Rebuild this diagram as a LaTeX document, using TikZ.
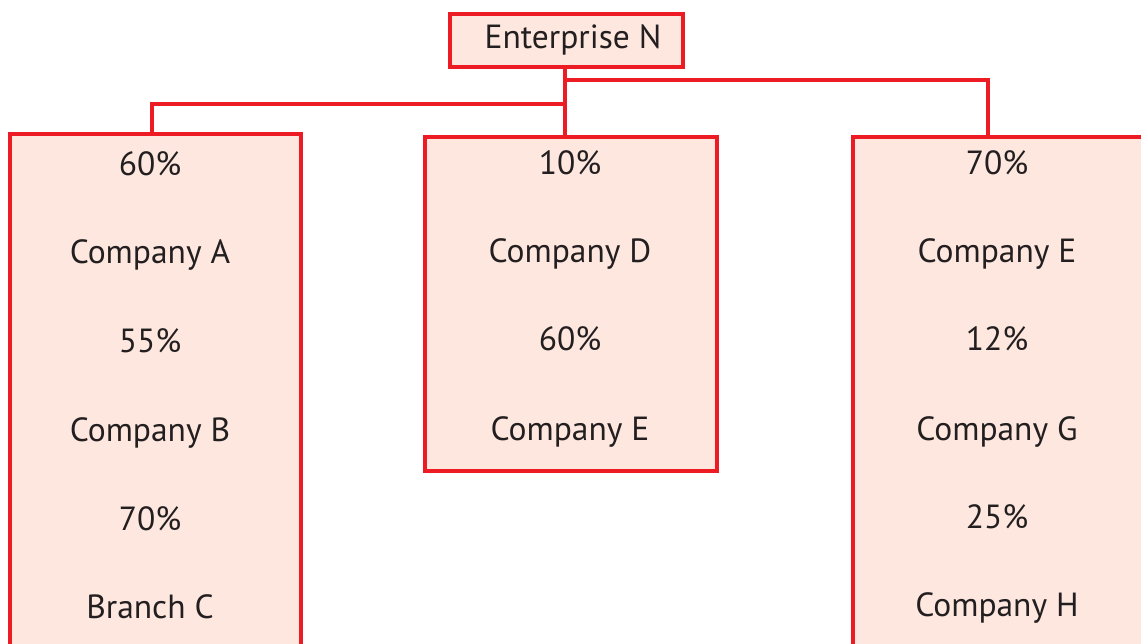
\documentclass[tikz,border=0pt]{standalone}
\usepackage{fontspec}
\setmainfont{PT Sans}
\definecolor{linkred}{RGB}{237, 28, 36}
\definecolor{unitfill}{RGB}{253, 231, 222}
\definecolor{labelgray}{RGB}{35, 31, 32}
\usepackage{tikz}
\usetikzlibrary{positioning}

\begin{document}
\begin{tikzpicture}[x=1pt, y=-1pt,
  unit/.style={rectangle, draw=linkred, fill=unitfill, line width=3.5pt, inner sep=0pt},
  share/.style={anchor=base, text=labelgray, font=\fontsize{33.5}{40}\selectfont},
  link/.style={draw=linkred, line width=3.5pt}]
  % Page
  \clip (0, 0) rectangle (1141, 644);

  % Boxes
  \node[unit, minimum width=233pt, minimum height=53pt] (ent) at (566.5, 40.5) {};
  \node[unit, minimum width=291pt, minimum height=530pt] (chainA) at (155.5, 399) {};
  \node[unit, minimum width=292pt, minimum height=334pt] (chainD) at (571, 304) {};
  \node[unit, minimum width=310pt, minimum height=530pt] (chainE) at (1008, 402) {};

  % Connectors
  \coordinate (jr) at (565, 80);
  \coordinate (jl) at (565, 104);
  \coordinate (dropA) at (152, 134);
  \coordinate (dropE) at (988, 137);
  \draw[link] (ent.south -| jr) -- (jr |- chainD.north);
  \draw[link] (jr) -| (dropE);
  \draw[link] (jl) -| (dropA);

  % Top
  \node[share] (topname) at (573, 49) {Enterprise N};

  % Left chain
  \node[share] (a1) at (150, 176) {60\%};
  \node[share] (a2) at (150, 264) {Company A};
  \node[share] (a3) at (150, 353) {55\%};
  \node[share] (a4) at (150, 441) {Company B};
  \node[share] (a5) at (150, 530) {70\%};
  \node[share] (a6) at (150, 618) {Branch C};

  % Middle chain
  \node[share] (d1) at (570, 175) {10\%};
  \node[share] (d2) at (570, 263) {Company D};
  \node[share] (d3) at (570, 351) {60\%};
  \node[share] (d4) at (570, 440) {Company E};

  % Right chain
  \node[share] (e1) at (997, 175) {70\%};
  \node[share] (e2) at (997, 263) {Company E};
  \node[share] (e3) at (997, 351) {12\%};
  \node[share] (e4) at (997, 440) {Company G};
  \node[share] (e5) at (997, 528) {25\%};
  \node[share] (e6) at (997, 616) {Company H};
\end{tikzpicture}
\end{document}
